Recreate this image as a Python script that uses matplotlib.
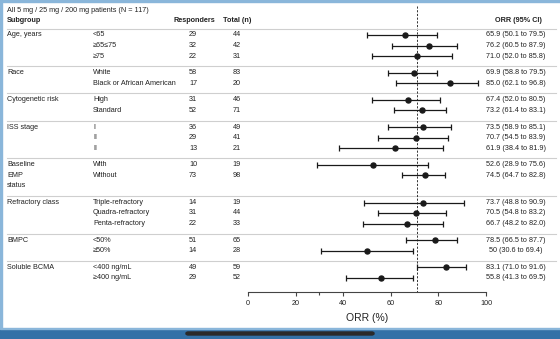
import matplotlib.pyplot as plt
import matplotlib.transforms as mtransforms
from matplotlib.patches import Rectangle, FancyBboxPatch

plt.rcParams['font.family'] = ['Liberation Sans', 'DejaVu Sans']

W, H = 560, 339

# Subgroups and rows
groups = ['Age, years', 'Race', 'Cytogenetic risk', 'ISS stage', 'Baseline\nEMP\nstatus',
          'Refractory class', 'BMPC', 'Soluble BCMA']
categories = [
    ['<65', '\u226565\u226475', '\u226575'],
    ['White', 'Black or African American'],
    ['High', 'Standard'],
    ['I', 'II', 'II'],
    ['With', 'Without'],
    ['Triple-refractory', 'Quadra-refractory', 'Penta-refractory'],
    ['<50%', '\u226550%'],
    ['<400 ng/mL', '\u2265400 ng/mL'],
]
responders = [[29, 32, 22], [58, 17], [31, 52], [36, 29, 13], [10, 73], [14, 31, 22], [51, 14], [49, 29]]
totals = [[44, 42, 31], [83, 20], [46, 71], [49, 41, 21], [19, 98], [19, 44, 33], [65, 28], [59, 52]]
orr = [[65.9, 76.2, 71.0], [69.9, 85.0], [67.4, 73.2], [73.5, 70.7, 61.9], [52.6, 74.5],
       [73.7, 70.5, 66.7], [78.5, 50], [83.1, 55.8]]
ci_low = [[50.1, 60.5, 52.0], [58.8, 62.1], [52.0, 61.4], [58.9, 54.5, 38.4], [28.9, 64.7],
          [48.8, 54.8, 48.2], [66.5, 30.6], [71.0, 41.3]]
ci_high = [[79.5, 87.9, 85.8], [79.5, 96.8], [80.5, 83.1], [85.1, 83.9, 81.9], [75.6, 82.8],
           [90.9, 83.2, 82.0], [87.7, 69.4], [91.6, 69.5]]
ref_line = 71
x_ticks = [0, 20, 40, 60, 80, 100]

TXT = '#222222'
FS = 5.2

fig = plt.figure(figsize=(W / 100, H / 100), dpi=100)
fig.patch.set_facecolor('white')

# forest axes: x in ORR %, y in pixel rows from top
ax = fig.add_axes([248 / W, (H - 292) / H, 238 / W, (292 - 29) / H])
ax.set_xlim(0, 100)
ax.set_ylim(292, 29)
ax.patch.set_alpha(0)
for s in ['top', 'right', 'left']:
    ax.spines[s].set_visible(False)
ax.spines['bottom'].set_color('#444444')
ax.spines['bottom'].set_linewidth(0.8)
ax.set_yticks([])
ax.set_xticks(x_ticks)
ax.set_xticks([30], minor=True)
ax.tick_params(axis='x', which='major', length=3, width=0.8, color='#444444',
               labelsize=FS, labelcolor=TXT, pad=3)
ax.tick_params(axis='x', which='minor', length=2.5, width=0.8, color='#444444')
ax.set_xlabel('ORR (%)', family=['Liberation Sans Narrow', 'Liberation Sans'],
              fontsize=7.5, color=TXT, labelpad=4)

tr = mtransforms.blended_transform_factory(fig.transFigure, ax.transData)

def fmt(v):
    return str(v) if isinstance(v, int) else f'{v:.1f}'

step, gap = 10.5, 6.2
y = 35
ys_all, x_all, lo_all, hi_all = [], [], [], []
for gi, g in enumerate(groups):
    start = y
    if gi > 0:
        ax.plot([7 / W, 556 / W], [start - 6.5] * 2, transform=tr, color='#cfcfcf',
                lw=0.8, clip_on=False)
    glines = g.split('\n')
    for li, gl in enumerate(glines):
        fig.text(7 / W, start + li * step, gl, transform=tr, fontsize=FS, color=TXT, va='center')
    for ci, cat in enumerate(categories[gi]):
        fig.text(93 / W, y, cat, transform=tr, fontsize=FS, color=TXT, va='center')
        fig.text(193 / W, y, str(responders[gi][ci]), transform=tr, fontsize=FS, color=TXT,
                 va='center', ha='center')
        fig.text(237 / W, y, str(totals[gi][ci]), transform=tr, fontsize=FS, color=TXT,
                 va='center', ha='center')
        v, lo, hi = orr[gi][ci], ci_low[gi][ci], ci_high[gi][ci]
        fig.text(516 / W, y, f'{fmt(v)} ({lo:.1f} to {hi:.1f})', transform=tr, fontsize=FS,
                 color=TXT, va='center', ha='center')
        ys_all.append(y)
        x_all.append(v)
        lo_all.append(v - lo)
        hi_all.append(hi - v)
        y += step
    rows = max(len(categories[gi]), len(glines))
    y = start + rows * step + gap

ax.errorbar(x_all, ys_all, xerr=[lo_all, hi_all], fmt='o', color='#1a1a1a', ms=3.6,
            elinewidth=0.9, capsize=2.4, capthick=0.9, zorder=3)
ax.vlines(ref_line, 6, 292, colors='#333333', linestyles=(0, (2.2, 1.6)), lw=0.7,
          clip_on=False, zorder=2)

# header
fig.text(7 / W, 10, 'All 5 mg / 25 mg / 200 mg patients (N = 117)', transform=tr,
         fontsize=FS, color=TXT, va='center')
fig.text(7 / W, 21, 'Subgroup', transform=tr, fontsize=FS, color=TXT, va='center', weight='bold')
fig.text(194 / W, 21, 'Responders', transform=tr, fontsize=FS, color=TXT, va='center',
         ha='center', weight='bold')
fig.text(237 / W, 21, 'Total (n)', transform=tr, fontsize=FS, color=TXT, va='center',
         ha='center', weight='bold')
fig.text(518 / W, 21, 'ORR (95% CI)', transform=tr, fontsize=FS, color=TXT, va='center',
         ha='center', weight='bold')
ax.plot([7 / W, 556 / W], [29, 29], transform=tr, color='#cfcfcf', lw=0.8, clip_on=False)

# page frame
edge = '#8ab6da'
fig.patches.append(Rectangle((0, 0), 2 / W, 1, transform=fig.transFigure, color=edge, zorder=0))
fig.patches.append(Rectangle((0, 1 - 2 / H), 1, 2 / H, transform=fig.transFigure, color=edge, zorder=0))
fig.patches.append(Rectangle((0, 0), 1, 10 / H, transform=fig.transFigure, color='#3371a7', zorder=5))
fig.patches.append(Rectangle((0, 10 / H), 1, 1 / H, transform=fig.transFigure, color=edge, zorder=5))
fig.patches.append(FancyBboxPatch((186 / W, 4 / H), 188 / W, 3 / H,
                                  boxstyle='round,pad=0,rounding_size=0.004',
                                  transform=fig.transFigure, color='#2a2a2a', zorder=6))

fig.savefig('out.png', dpi=100)
